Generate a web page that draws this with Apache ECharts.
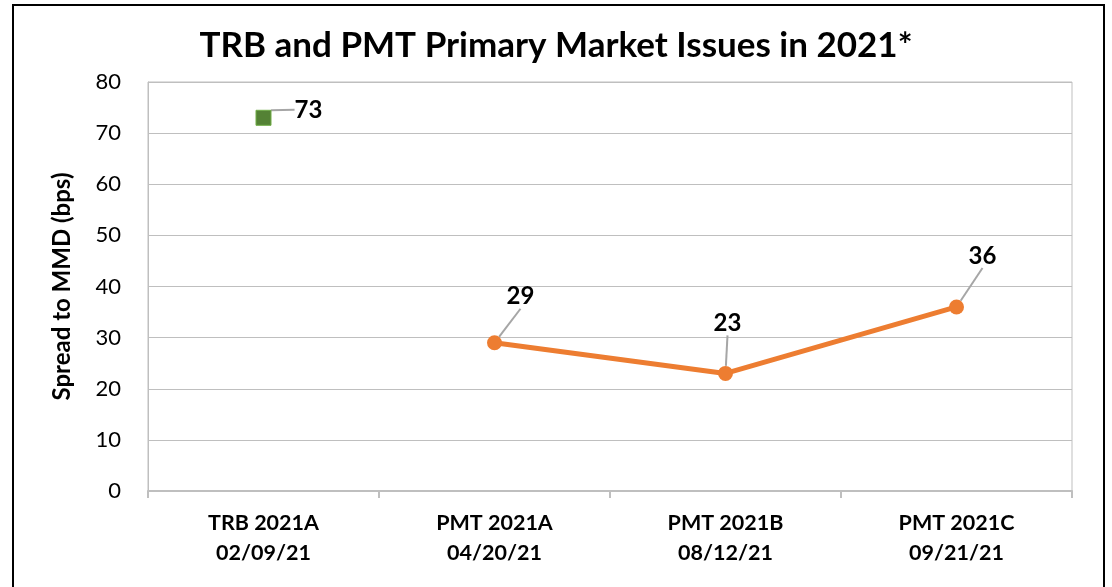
<!DOCTYPE html>
<html>
<head>
<meta charset="utf-8">
<script src="https://cdn.jsdelivr.net/npm/echarts@6/dist/echarts.min.js"></script>
<style>
  html, body { margin: 0; padding: 0; background: #fff; }
  #chart { width: 1112px; height: 587px; }
</style>
</head>
<body>
<div id="chart"></div>
<script>
var categories = ['TRB 2021A\n02/09/21', 'PMT 2021A\n04/20/21', 'PMT 2021B\n08/12/21', 'PMT 2021C\n09/21/21'];
var trbValues = [73, '-', '-', '-'];
var pmtValues = ['-', 29, 23, 36];
var yTicks = [0, 80, 10];

var font = 'Lato, "Open Sans", sans-serif';
var gray = '#bfbfbf';

var option = {
  animation: false,
  textStyle: { fontFamily: font },
  title: {
    text: 'TRB and PMT Primary Market Issues in 2021*',
    left: 'center',
    top: 23,
    textStyle: { fontFamily: font, fontSize: 35, fontWeight: 'bold', color: '#000' }
  },
  graphic: [{
    type: 'rect',
    shape: { x: 13, y: 5, width: 1091, height: 600 },
    style: { fill: 'none', stroke: '#000', lineWidth: 2 },
    silent: true
  }],
  grid: {
    left: 148, right: 40, top: 82, bottom: 96,
    show: true, borderColor: gray, borderWidth: 1
  },
  xAxis: {
    type: 'category',
    data: categories,
    boundaryGap: true,
    axisLine: { lineStyle: { color: gray, width: 2 } },
    axisTick: { show: true, length: 7, lineStyle: { color: gray, width: 2 } },
    axisLabel: {
      fontFamily: font, fontSize: 21.5, fontWeight: 'bold', color: '#000',
      lineHeight: 30, margin: 17
    }
  },
  yAxis: {
    type: 'value',
    min: yTicks[0], max: yTicks[1], interval: yTicks[2],
    name: 'Spread to MMD (bps)',
    nameLocation: 'middle',
    nameGap: 74,
    nameTextStyle: { fontFamily: font, fontSize: 24, fontWeight: 'bold', color: '#000' },
    axisLine: { show: true, lineStyle: { color: gray, width: 1 } },
    axisTick: { show: false },
    axisLabel: { fontFamily: font, fontSize: 22, color: '#000', margin: 27 },
    splitLine: { lineStyle: { color: gray, width: 1 } }
  },
  series: [
    {
      name: 'TRB',
      type: 'line',
      data: trbValues,
      symbol: 'rect',
      symbolSize: 15,
      itemStyle: { color: '#548235', borderColor: '#70ad47', borderWidth: 1 },
      label: {
        show: true, position: 'inside',
        fontFamily: font, fontSize: 24, fontWeight: 'bold', color: '#000'
      },
      labelLayout: { dx: 45, dy: -8 },
      labelLine: { show: true, length2: 0, lineStyle: { color: '#a6a6a6', width: 2 } }
    },
    {
      name: 'PMT',
      type: 'line',
      data: pmtValues,
      symbol: 'circle',
      symbolSize: 15,
      lineStyle: { color: '#ed7d31', width: 5 },
      itemStyle: { color: '#ed7d31' },
      label: {
        show: true, position: 'inside',
        fontFamily: font, fontSize: 24, fontWeight: 'bold', color: '#000'
      },
      labelLayout: function (params) {
        var idx = params.dataIndex;
        var offs = { 1: [26, -46], 2: [2, -50], 3: [26, -51] };
        var o = offs[idx] || [0, -40];
        return { dx: o[0], dy: o[1] };
      },
      labelLine: { show: true, length2: 0, lineStyle: { color: '#a6a6a6', width: 2 } }
    }
  ]
};

var chart = echarts.init(document.getElementById('chart'));
chart.setOption(option);
</script>
</body>
</html>
